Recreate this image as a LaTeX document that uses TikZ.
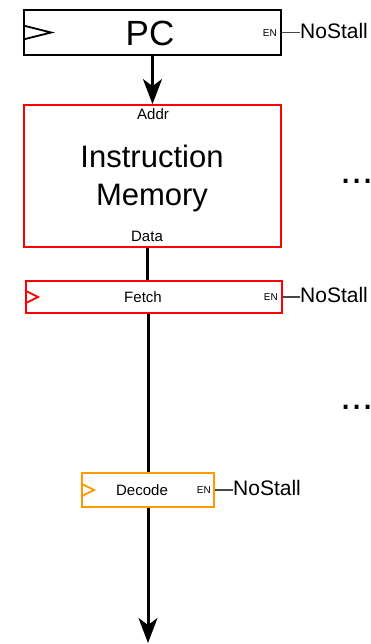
\documentclass[tikz,border=0pt]{standalone}
\usepackage{fontspec}
\setmainfont{Liberation Sans}
\usetikzlibrary{arrows.meta,calc}
\definecolor{regred}{RGB}{255,0,0}
\definecolor{regorange}{RGB}{255,153,0}
\definecolor{engray}{RGB}{70,70,70}
\tikzset{
  box/.style={draw, line width=1.8pt, inner sep=0pt},
  fs/.style={font=\fontsize{#1}{#1}\selectfont},
  enlbl/.style={anchor=east, inner sep=0pt, font=\fontsize{10}{10}\selectfont},
  nostall/.style={anchor=west, inner sep=0pt, font=\fontsize{21}{21}\selectfont},
  enline/.style={draw=engray, line width=1.5pt},
  bus/.style={line width=3pt},
  arr/.style={line width=3pt, -{Stealth[length=25pt, width=19pt, inset=7pt]}},
  clk/.style={line width=1.8pt},
}
\begin{document}
\begin{tikzpicture}[x=1pt, y=-1pt]
\useasboundingbox (0,0) rectangle (371,644);
% PC
\node[box, minimum width=257pt, minimum height=45pt] (pc) at (152.5,32.5) {};
\node[fs=35, inner sep=0pt] (pctxt) at (150,33) {PC};
\draw[clk] ($(pc.west)+(0,-7)$) -- ($(pc.west)+(28,0)$) -- ($(pc.west)+(0,7)$);
\node[enlbl] (en1) at (277,33) {EN};
\node[nostall] (ns1) at (300,31) {NoStall};
\draw[enline] (pc.east) -- (ns1.west |- pc.east);
% Instruction memory
\node[box, draw=regred, minimum width=257pt, minimum height=142pt] (mem) at (152.5,176) {};
\node[fs=15, inner sep=0pt] (addr) at (153,114) {Addr};
\node[align=center, inner sep=0pt, font=\fontsize{31}{38}\selectfont] (imtxt) at (152,178) {Instruction\\Memory};
\node[fs=15, inner sep=0pt] (dat) at (147,236) {Data};
\draw[arr] (pc.south -| mem.north) -- (mem.north);
% Fetch
\node[box, draw=regred, minimum width=256pt, minimum height=32pt] (fetch) at (154,297) {};
\node[fs=15, inner sep=0pt] (ftxt) at (143,297) {Fetch};
\draw[clk, regred] ($(fetch.west)+(0,-6.5)$) -- ($(fetch.west)+(13,0)$) -- ($(fetch.west)+(0,6.5)$);
\node[enlbl] (en2) at (278,297) {EN};
\node[nostall] (ns2) at (300,295) {NoStall};
\draw[enline] (fetch.east) -- (ns2.west |- fetch.east);
\draw[bus] (mem.south -| dat) -- (fetch.north -| dat);
% Decode
\node[box, draw=regorange, minimum width=132pt, minimum height=34pt] (dec) at (148,490) {};
\node[fs=15, inner sep=0pt] (dtxt) at (142,490) {Decode};
\draw[clk, regorange] ($(dec.west)+(0,-6.5)$) -- ($(dec.west)+(13,0)$) -- ($(dec.west)+(0,6.5)$);
\node[enlbl] (en3) at (211,490) {EN};
\node[nostall] (ns3) at (233,488) {NoStall};
\draw[enline] (dec.east) -- (ns3.west |- dec.east);
\draw[bus] (fetch.south -| dec) -- (dec.north);
\coordinate (out) at (148,643);
\draw[arr] (dec.south) -- (out);
% dots
\node[anchor=base west, inner sep=0pt, font=\fontsize{40}{40}\selectfont] (dots1) at (340,184) {...};
\node[anchor=base west, inner sep=0pt, font=\fontsize{40}{40}\selectfont] (dots2) at (340,409) {...};
\end{tikzpicture}
\end{document}
